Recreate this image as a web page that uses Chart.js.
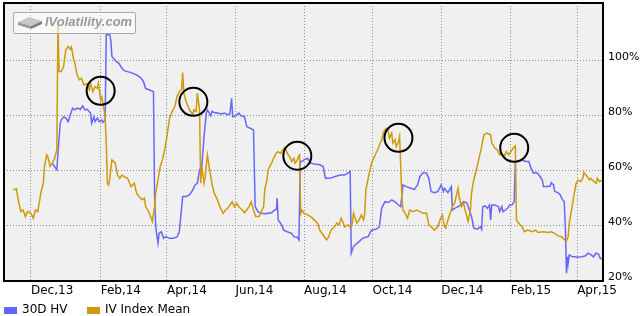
<!DOCTYPE html>
<html>
<head>
<meta charset="utf-8">
<script src="https://cdn.jsdelivr.net/npm/chart.js@4.4.1/dist/chart.umd.min.js"></script>
<style>
  html, body { margin: 0; padding: 0; background: #ffffff; }
  #wrap { position: relative; width: 642px; height: 316px; overflow: hidden; }
  #c { position: absolute; left: 0; top: 0; }
  #logo { position: absolute; left: 13px; top: 12px; width: 121px; height: 20px;
          border: 1px solid #a8a8a8; border-radius: 2px; background: rgba(255,255,255,0.55);
          pointer-events: none; }
  #logo svg { position: absolute; left: 3px; top: 3px; }
  #logo span { position: absolute; left: 31px; top: 1px; font: italic bold 13px "Liberation Sans", Arial, sans-serif;
               color: #999999; white-space: nowrap; }
  #legend { position: absolute; left: 4px; top: 302px; height: 14px; font: 12px "DejaVu Sans", sans-serif; color: #000; white-space: nowrap; }
  .li { position: absolute; top: 0; }
  .li i { position: absolute; left: 0; top: 5px; width: 13px; height: 7px; }
  .li span { position: absolute; left: 18px; top: 0; }
</style>
</head>
<body>
<div id="wrap">
  <canvas id="c" width="642" height="316"></canvas>
  <div id="logo">
    <svg width="26" height="14" viewBox="0 0 26 14">
      <polygon points="1,6 12,1 25,5 14,10" fill="#c8c8c8"/>
      <polygon points="1,6 14,10 14,13 1,9" fill="#9a9a9a"/>
      <polygon points="14,10 25,5 25,8 14,13" fill="#7e7e7e"/>
    </svg>
    <span>IVolatility.com</span>
  </div>
  <div id="legend"></div>
</div>
<script>
// ---- Data (x = days since 1 Dec 2013, y = percent) ----
const seriesNames = ["30D HV", "IV Index Mean"];

const hvDays = [19,21,23,24,26,27,29,31,33,35,37,39,41,44,46,48,50,53,54,56,57,59,61,63,64,66,67,70,71,72,76,78,81,83,89,94,98,100,102,105,109,110,111,113,114,116,118,120,123,127,130,132,135,138,141,144,146,148,150,152,154,156,157,160,161,163,166,169,172,175,177,178.5,179.5,182,185,187,190,192,195,198,199.5,202,205,208,211,214,217,218.5,219,220,223,225,228,232,234,237,238.5,239.5,241,243,246,249,252,257,260,262,266,270,275,279,282,284,285,287,290,292,295,297,300,303,307,310,312,315,318,321,324,327,329,331,334,338,341,344,346,349,352,354,356,359,362,365,367,368,371,374,375,377,380,382,385,388,390,392,394,397,400,401,402,404,406,408,409,410,413,416,417,419,420,422,424,426,428,430,431,434,437,440,443,445,447,450,452,455,456,459,462,463,465,466,469,471,473,474.5,475.5,476.5,477.5,478,479,482,484,487,490,493,496,498.5,500.5,502.7,505,506.5,508.5];
const hvValues = [62.8,61.6,60.4,66.4,77.3,78.5,79.7,79.2,77.9,80.4,82.8,82.2,82.8,82.4,83.6,82.2,82.4,81,77.3,79.7,77.9,79.2,77.9,78.5,77.6,78.5,109.5,109.5,107.6,101.6,99.7,99.2,97.3,96.4,95.7,94.9,93.7,92.5,90,89.5,88.8,50.7,39.7,33.7,37.3,37.9,35.5,36.1,35.5,35.5,36.1,37.9,50.7,50.7,51.3,53.1,54.9,55.5,60.4,61.6,72.5,81,82.2,80,81.6,81.2,81,80.7,81,80.4,80.7,86.4,79.7,80,81,80,79.7,76.1,75.5,74.9,47,45.2,44.6,44.4,44.6,44.8,45.8,46.1,50.1,42.2,40.4,38.5,37.9,37.3,36.1,35.9,34.9,63.4,63.4,64,64.6,62.8,62.5,62.2,61.6,57.3,57.3,57.9,58.5,58.5,59.2,59.8,30.1,32.5,33.7,34.3,35.5,35.8,36.1,38.5,38.8,39.7,46.4,48.8,48.5,49.5,48.8,47.6,47,54.9,54.3,53.7,53.3,54.9,57.9,59.4,59.2,57.3,52.5,52.1,52.5,54.9,52.5,53.7,52.1,54.3,45.8,46.4,47,47.6,48.8,48.3,45.8,43.4,39.2,38.8,39.7,38.8,47,47.3,46.4,47.6,42.2,47.6,47.6,47,45.2,47,45.2,45.8,46.4,47.6,47.6,48.8,63.4,63.4,64,63.4,63.4,61,59.2,59.4,58.5,56.7,54.3,54.3,54.5,55.7,54.9,52.5,52.1,51.3,49.5,48.8,39.7,22.8,28.8,26.4,29.5,28.8,28.8,28.6,28.8,29.1,30.1,29.5,28.8,30.1,29.8,28.3,27.9];

const ivDays = [-16,-13,-11,-9,-7,-5,-3,0,2,4,6,9,11,12,14,15,17,19,21,23,24,25,27,29,31,33,35,36,38,39,41,43,45,47,50,52,53,55,57,59,60,62,63,64,66,67,68,69,70,72,75,77,79,81,83,86,89,92,94,96,99,101,102,104,107,108,110,111,113,115,117,119,121,123,125,128,130,132,134,135,136,138,141,144,145,147,148,150,151,152,154,155,157,159,161,163,166,168,171,173,175,177,179,181,183,185,188,190,192,194,196,198,200,203,205,207,208,210,211,214,216,218,220,222,224,226,228,230,232,234,235,237,238,239,240,241,243,246,249,252,255,257,260,263,265,267,270,272,274,276,278,279,282,284,286,287,290,292,294,296,297,298,301,303,305,307,309,312,314,316,318,319,321,322,324,325,327,328,330,331,333,335,337,340,343,346,349,352,354,356,359,362,364,366,368,369,371,373,375,377,380,381,383,385,387,389,391,392,394,397,399,401,403,406,409,410,413,415,417,419,421,423,425,427,429,431,432,434,437,439,442,446,449,451,456,460,463,466,469,472,475,476,478,479,481,483,485,487,489,491,492,495,497,498,501,503,504,506,508];
const ivValues = [53.1,53.5,48.8,45.2,45.8,43.4,45.2,44.6,42.8,45.8,45.2,52.5,55.5,61.6,65.8,65.2,61.6,62.8,64.6,67.6,113.7,96.1,96.1,97.9,104,105.2,104.2,105,100.4,99.2,94.9,93.1,93.7,91.3,91.6,89.5,91.9,88.8,90.6,90,91.9,85.8,86.8,84.6,79.8,70.1,55.5,54.9,56.7,64,62.8,58.5,57.3,58.5,57.9,57.3,54.3,55.5,51.9,50.7,49.5,50.1,47,45.8,42.8,41.6,47,51.9,56.7,61.6,64,67.6,72.5,78.5,81,83.4,87,88.8,89.5,95.7,88.3,85.2,82.2,80.4,82.2,81.6,88.3,82.2,55.5,61.6,55.5,57.9,65.8,60.4,55.5,51.9,49.5,47,44.6,45.8,46.4,47.6,48.8,47,48.3,47,45.8,44.8,45.8,47,48.8,45.8,43.4,43.4,45.2,47,53.1,56.7,60.4,62.8,64.6,66.4,67,66.4,67.6,68.6,66.4,65.2,63.4,64.6,62.8,64,65.2,65.8,44.6,45.8,44.6,44,43.4,42.2,41,38.5,36.7,34.9,36.1,38.5,39.7,41,40.4,42.8,41,39.7,40.4,39.7,41,44.6,41,42.2,44,42.2,44.6,53.1,59.2,62.8,64.6,66.4,68.2,71.3,74.3,75.5,74.3,71.9,73.7,70.1,71.3,68.8,70.7,72.5,50.7,45.8,44.6,42.8,45.8,45.2,45.8,45.2,44.6,44.6,40.4,39.7,38.5,39.7,42.2,44,39.7,39.2,42.2,44.6,47,48.3,53.7,50.7,47,48.3,44.6,41.6,45.8,51.9,56.7,61.6,65.2,68.8,73.1,73.7,73.1,70.1,68.2,67.6,65.8,66.4,65.2,67,65.8,67,68.2,69.1,42.2,41,39.7,37.9,38.5,37.9,38.5,37.6,37.9,37.6,37.9,37.3,36.4,36.1,34.9,34.3,36.1,41,45.8,50.7,55.5,56.7,56.1,57.3,59.4,57.9,56.7,57.3,56.1,55.5,57.3,56.1,56.7];

// circled highlights
const markDays = [62, 144.5, 237, 327, 430];
const markValues = [89.1, 85.1, 65.5, 72, 68.4];

// axis ticks
const xTickDays = [0, 62, 121, 182, 243, 304, 365, 427, 486];
const xTickLabels = ["Dec,13", "Feb,14", "Apr,14", "Jun,14", "Aug,14", "Oct,14", "Dec,14", "Feb,15", "Apr,15"];
const yTickValues = [20, 40, 60, 80, 100];

const xMin = -24, xMax = 509, yMin = 20, yMax = 121;
const colors = ["#6666ff", "#cf9a0a"];

function pts(xs, ys) { return xs.map((x, i) => ({ x: x, y: ys[i] })); }

const frame = {
  id: 'frame',
  beforeDraw(chart) {
    const a = chart.chartArea, ctx = chart.ctx;
    ctx.save();
    ctx.fillStyle = '#f0f0f0';
    ctx.fillRect(a.left, a.top, a.right - a.left, a.bottom - a.top);
    ctx.restore();
  },
  afterDraw(chart) {
    const a = chart.chartArea, ctx = chart.ctx;
    ctx.save();
    ctx.strokeStyle = '#000';
    ctx.lineWidth = 2;
    ctx.strokeRect(a.left, a.top, a.right - a.left, a.bottom - a.top);
    ctx.restore();
  }
};

const chart = new Chart(document.getElementById('c'), {
  type: 'line',
  data: {
    datasets: [
      { label: seriesNames[0], data: pts(hvDays, hvValues), borderColor: colors[0], borderWidth: 1.5,
        pointRadius: 0, tension: 0, fill: false, order: 2 },
      { label: seriesNames[1], data: pts(ivDays, ivValues), borderColor: colors[1], borderWidth: 1.5,
        pointRadius: 0, tension: 0, fill: false, order: 1 },
      { label: 'marks', data: pts(markDays, markValues), showLine: false, pointRadius: 14, pointHoverRadius: 14,
        pointBorderWidth: 2, pointBorderColor: '#000', pointBackgroundColor: 'rgba(0,0,0,0)', borderColor: '#000', order: 0 }
    ]
  },
  options: {
    responsive: false,
    animation: false,
    devicePixelRatio: 1,
    events: [],
    layout: { autoPadding: false, padding: { left: 4, top: 3, right: 0, bottom: 0 } },
    plugins: { legend: { display: false }, tooltip: { enabled: false } },
    scales: {
      x: {
        type: 'linear', min: xMin, max: xMax,
        afterBuildTicks(scale) { scale.ticks = xTickDays.map(v => ({ value: v })); },
        afterFit(scale) { scale.height = 35; scale.paddingLeft = 0; scale.paddingRight = 0; },
        ticks: {
          autoSkip: false, maxRotation: 0, padding: 3, align: 'start', color: '#000',
          font: { family: 'DejaVu Sans', size: 12 },
          callback(v) { const i = xTickDays.indexOf(v); return i >= 0 ? xTickLabels[i] : ''; }
        },
        grid: { color: '#8c8c8c', lineWidth: 1, drawTicks: false },
        border: { display: false, dash: [1, 2] }
      },
      y: {
        type: 'linear', position: 'right', min: yMin, max: yMax,
        afterBuildTicks(scale) { scale.ticks = yTickValues.map(v => ({ value: v })); },
        afterFit(scale) { scale.width = 39; scale.paddingTop = 0; scale.paddingBottom = 0; },
        ticks: {
          padding: 5, labelOffset: -4, color: '#000',
          font: { family: 'DejaVu Sans', size: 11 },
          callback(v) { return v + '%'; }
        },
        grid: { color: '#8c8c8c', lineWidth: 1, drawTicks: false },
        border: { display: false, dash: [1, 2] }
      }
    }
  },
  plugins: [frame]
});

// legend built from the series
const lg = document.getElementById('legend');
const offsets = [0, 83];
seriesNames.forEach((name, i) => {
  const d = document.createElement('div');
  d.className = 'li';
  d.style.left = offsets[i] + 'px';
  d.innerHTML = '<i style="background:' + colors[i] + '"></i><span></span>';
  d.querySelector('span').textContent = name;
  lg.appendChild(d);
});
</script>
</body>
</html>
